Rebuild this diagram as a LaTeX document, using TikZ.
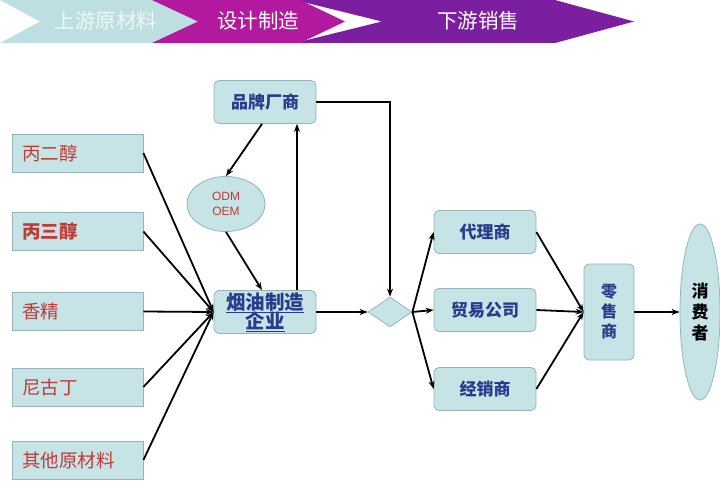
\documentclass[tikz,border=0pt]{standalone}
\usepackage{fontspec}
\setmainfont{Noto Sans CJK SC}
\newfontfamily\latinsans{Liberation Sans}
\usetikzlibrary{arrows.meta,shapes.geometric,calc}
\definecolor{boxfill}{HTML}{C6E3E6}
\definecolor{boxline}{HTML}{93B5BA}
\definecolor{navy}{HTML}{2A3A8C}
\definecolor{rawred}{HTML}{C03A36}
\definecolor{chevA}{HTML}{BDDFE2}
\definecolor{chevB}{HTML}{B3199F}
\definecolor{chevC}{HTML}{7B1FA0}
\tikzset{
  x=1pt,y=-1pt,
  rbox/.style={draw=boxline,fill=boxfill,rounded corners=5pt,line width=0.8pt,inner sep=1pt,
    minimum width=102pt,minimum height=43pt,font=\bfseries\fontsize{17}{19}\selectfont,text=navy,align=center},
  rawbox/.style={draw=boxline,fill=boxfill,line width=0.8pt,minimum width=131pt,minimum height=38pt,
    font=\fontsize{18.5}{20}\selectfont,text=rawred,text width=111pt,align=left},
  conn/.style={line width=1.8pt,-{Stealth[length=8pt,width=6pt]}},
  chevtext/.style={font=\fontsize{20.5}{22}\selectfont,text=white},
}
\begin{document}
\begin{tikzpicture}
\useasboundingbox (0,0) rectangle (720,481);
% header chevrons
\fill[chevA] (0,0) -- (160,0) -- (198,21.5) -- (160,43) -- (0,43) -- (40,21.5) -- cycle;
\fill[chevC] (295,0) -- (555,0) -- (634,21.5) -- (555,43) -- (295,43) -- (382,21.5) -- cycle;
\fill[chevB] (152,0) -- (300,0) -- (345,21.5) -- (300,43) -- (152,43) -- (198,21.5) -- cycle;
\node[chevtext,text=white!75!chevA] (h1) at (106,21) {上游原材料};
\node[chevtext] (h2) at (258,21) {设计制造};
\node[chevtext] (h3) at (478,21) {下游销售};

% raw material boxes
\node[rawbox] (r1) at (77.5,153) {丙二醇};
\node[rawbox,font=\bfseries\fontsize{18.5}{20}\selectfont] (r2) at (77.5,231.5) {丙三醇};
\node[rawbox] (r3) at (77.5,311.5) {香精};
\node[rawbox] (r4) at (77.5,387) {尼古丁};
\node[rawbox] (r5) at (77.5,460) {其他原材料};

% central nodes
\node[rbox] (brand) at (265,102) {品牌厂商};
\node[ellipse,draw=boxline,fill=boxfill,line width=0.8pt,minimum width=78pt,minimum height=55pt,
  inner sep=0pt,font=\latinsans\fontsize{12}{15}\selectfont,text=rawred,align=center] (odm) at (226,204) {ODM\\OEM};
\node[rbox,font=\bfseries\fontsize{19.5}{20}\selectfont] (mfg) at (265,312) {\underline{烟油制造}\\[-3pt]\underline{企业}};
\node[diamond,draw=boxline,fill=boxfill,line width=0.8pt,minimum width=44pt,minimum height=30pt,inner sep=0pt,aspect=1.5] (dia) at (390,312) {};

% distribution
\node[rbox] (agent) at (485,232) {代理商};
\node[rbox] (trade) at (485,310) {贸易公司};
\node[rbox] (dealer) at (485,389) {经销商};
\node[rbox,minimum width=50pt,minimum height=96pt,font=\bfseries\fontsize{16}{20}\selectfont] (retail) at (609,312) {零\\售\\商};
\node[ellipse,draw=boxline,fill=boxfill,line width=0.8pt,minimum width=40pt,minimum height=176pt,inner sep=0pt,
  font=\bfseries\fontsize{17}{21}\selectfont,text=black,align=center] (cons) at (700,312) {消\\费\\者};

% connectors
\coordinate (hub) at (mfg.west);
\foreach \r in {r1,r2,r3,r4,r5} \draw[conn] (\r.east) -- (hub);
\draw[conn] ($(brand.south)+(-3,0)$) -- (odm.north);
\draw[conn] (odm.south) -- ($(mfg.north)+(-3,0)$);
\draw[conn] ($(mfg.north)+(32,0)$) -- ($(brand.south)+(32,0)$);
\draw[conn] (brand.east) -| (dia.north);
\draw[conn] (mfg.east) -- (dia.west);
\draw[conn] (dia.east) -- (agent.west);
\draw[conn] (dia.east) -- (trade.west);
\draw[conn] (dia.east) -- (dealer.west);
\draw[conn] (agent.east) -- (retail.west);
\draw[conn] (trade.east) -- (retail.west);
\draw[conn] (dealer.east) -- (retail.west);
\draw[conn] (retail.east) -- (cons.west);
\end{tikzpicture}
\end{document}
